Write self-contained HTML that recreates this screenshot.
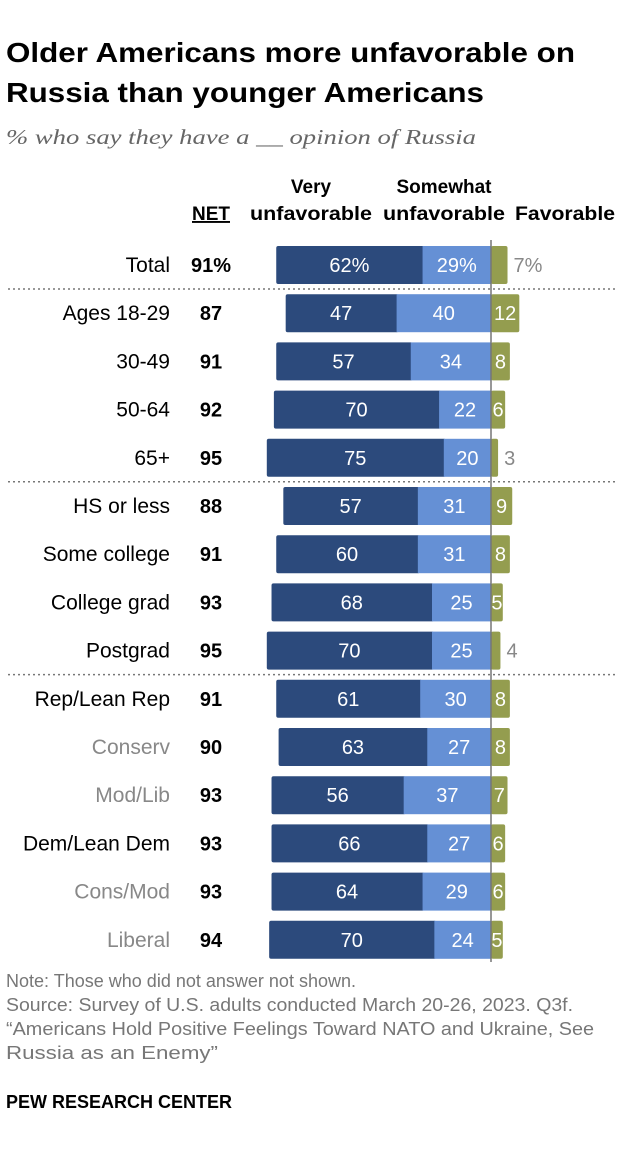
<!DOCTYPE html>
<html><head><meta charset="utf-8"><style>
body{margin:0;background:#fff;width:620px;height:1154px;overflow:hidden;font-family:"Liberation Sans",sans-serif;}
</style></head><body>
<svg width="620" height="1154" xmlns="http://www.w3.org/2000/svg" font-family="Liberation Sans, sans-serif">
<text x="6" y="62" font-size="28" font-weight="bold" fill="#000" textLength="569" lengthAdjust="spacingAndGlyphs">Older Americans more unfavorable on</text>
<text x="6" y="102" font-size="28" font-weight="bold" fill="#000" textLength="478" lengthAdjust="spacingAndGlyphs">Russia than younger Americans</text>
<text x="6" y="144" font-size="21" font-style="italic" font-family="Liberation Serif, serif" fill="#666" textLength="470" lengthAdjust="spacingAndGlyphs">% who say they have a __ opinion of Russia</text>
<text x="211" y="220" font-size="19" font-weight="bold" text-anchor="middle" text-decoration="underline">NET</text>
<text x="311" y="193" font-size="19" font-weight="bold" text-anchor="middle">Very</text>
<text x="311" y="220" font-size="19" font-weight="bold" text-anchor="middle" textLength="122" lengthAdjust="spacingAndGlyphs">unfavorable</text>
<text x="444" y="193" font-size="19" font-weight="bold" text-anchor="middle">Somewhat</text>
<text x="444" y="220" font-size="19" font-weight="bold" text-anchor="middle" textLength="122" lengthAdjust="spacingAndGlyphs">unfavorable</text>
<text x="565" y="220" font-size="19" font-weight="bold" text-anchor="middle" textLength="100" lengthAdjust="spacingAndGlyphs">Favorable</text>
<g id="rows"></g>
<line x1="491" y1="240" x2="491" y2="962" stroke="#777" stroke-width="1.5"/>
<g font-size="18" fill="#777">
<text x="6" y="987" textLength="350" lengthAdjust="spacingAndGlyphs">Note: Those who did not answer not shown.</text>
<text x="6" y="1011" textLength="567" lengthAdjust="spacingAndGlyphs">Source: Survey of U.S. adults conducted March 20-26, 2023. Q3f.</text>
<text x="6" y="1035" textLength="588" lengthAdjust="spacingAndGlyphs">“Americans Hold Positive Feelings Toward NATO and Ukraine, See</text>
<text x="6" y="1059" textLength="212" lengthAdjust="spacingAndGlyphs">Russia as an Enemy”</text>
</g>
<text x="6" y="1108" font-size="18" font-weight="bold" fill="#000" textLength="226" lengthAdjust="spacingAndGlyphs">PEW RESEARCH CENTER</text>
</svg>
<script>
const categories=["Total","Ages 18-29","30-49","50-64","65+","HS or less","Some college","College grad","Postgrad","Rep/Lean Rep","Conserv","Mod/Lib","Dem/Lean Dem","Cons/Mod","Liberal"];
const veryUnfav=[62,47,57,70,75,57,60,68,70,61,63,56,66,64,70];
const somewhatUnfav=[29,40,34,22,20,31,31,25,25,30,27,37,27,29,24];
const favorable=[7,12,8,6,3,9,8,5,4,8,8,7,6,6,5];
const net=[91,87,91,92,95,88,91,93,95,91,90,93,93,93,94];
const subgroup=[false,false,false,false,false,false,false,false,false,false,true,true,false,true,true];
const separatorsAfter=[0,4,8];
const NS="http://www.w3.org/2000/svg";
const g=document.getElementById('rows');
const x0=491, k=2.36;
const xs=v=>v*k;
const yc=i=>265+i*48.2;
function mk(t,a){const e=document.createElementNS(NS,t);for(const n in a)e.setAttribute(n,a[n]);g.appendChild(e);return e;}
categories.forEach((c,i)=>{
  const y=yc(i), h=38, top=y-h/2, pct=i===0?'%':'';
  let t=mk('text',{x:170,y:y+7,'font-size':21,'text-anchor':'end',fill:subgroup[i]?'#888':'#000'});t.textContent=c;
  
  
  t=mk('text',{x:211,y:y+7,'font-size':20,'font-weight':'bold','text-anchor':'middle',fill:'#000'});t.textContent=net[i]+pct;
  
  
  const wv=xs(veryUnfav[i]), ws=xs(somewhatUnfav[i]), wf=xs(favorable[i]);
  let r=mk('rect',{x:x0-ws-wv,y:top,width:wv+2,height:h,rx:2,fill:'#2c4a7c'});
  
  
  r=mk('rect',{x:x0-ws,y:top,width:ws,height:h,fill:'#6590d5'});
  
  
  r=mk('rect',{x:x0,y:top,width:wf,height:h,rx:2,fill:'#949d4f'});
  
  
  t=mk('text',{x:x0-ws-wv/2,y:y+7,'font-size':20,'text-anchor':'middle',fill:'#fff'});t.textContent=veryUnfav[i]+pct;
  
  
  t=mk('text',{x:x0-ws/2,y:y+7,'font-size':20,'text-anchor':'middle',fill:'#fff'});t.textContent=somewhatUnfav[i]+pct;
  
  
  const inside=favorable[i]>=5 && i!==0;
  t=mk('text',{x:inside?x0+wf/2:x0+wf+6,y:y+7,'font-size':20,'text-anchor':inside?'middle':'start',fill:inside?'#fff':'#888'});t.textContent=favorable[i]+pct;
  
  
  if(separatorsAfter.includes(i)){
    const l=mk('line',{x1:8,x2:615,y1:y+24,y2:y+24,stroke:'#777','stroke-width':1.5,'stroke-dasharray':'2,3'});
    
    
  }
});
</script>
</body></html>
